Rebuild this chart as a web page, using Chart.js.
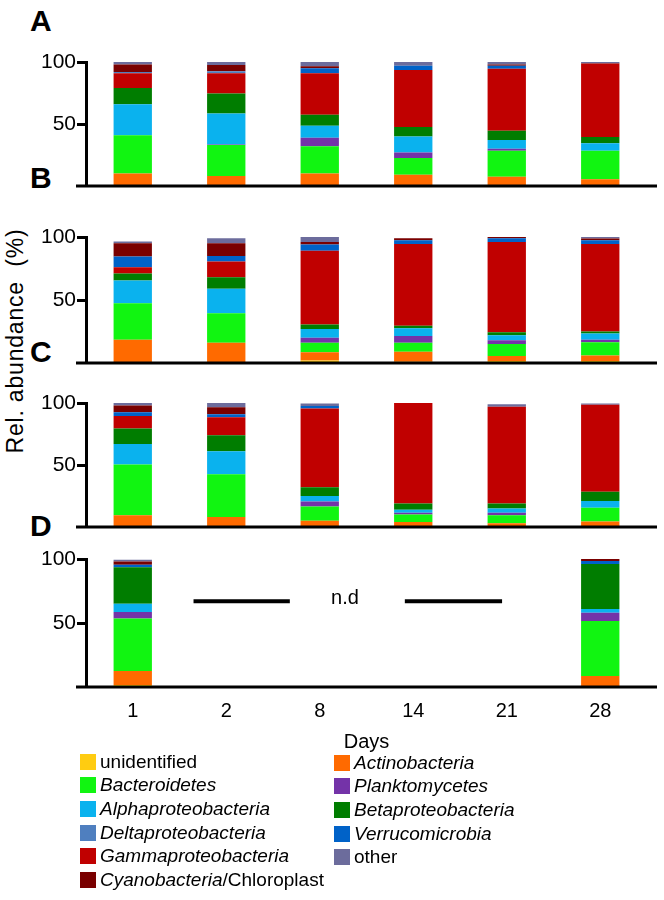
<!DOCTYPE html>
<html>
<head>
<meta charset="utf-8">
<script src="https://cdn.jsdelivr.net/npm/chart.js@4.4.1/dist/chart.umd.min.js"></script>
<style>
  body { margin: 0; background: #fff; }
  #wrap { position: relative; width: 664px; height: 900px; font-family: "Liberation Sans", Arial, sans-serif; color: #000; overflow: hidden; }
  canvas { position: absolute; left: 0; }
  .panel { position: absolute; left: 30px; font-weight: bold; font-size: 30px; line-height: 1; }
  #ytitle { position: absolute; left: -115px; top: 329px; width: 260px; height: 24px; line-height: 24px;
            text-align: center; font-size: 23px; letter-spacing: 0.8px; white-space: pre; transform: rotate(-90deg); }
  .leg { position: absolute; font-size: 19px; }
  .leg div { display: flex; align-items: center; height: 23.6px; white-space: nowrap; }
  .sw { width: 16px; height: 16px; margin-right: 4px; flex: none; }
</style>
</head>
<body>
<div id="wrap">
  <div class="panel" style="top:6px">A</div>
  <div class="panel" style="top:163px">B</div>
  <div class="panel" style="top:337px">C</div>
  <div class="panel" style="top:511px">D</div>
  <div id="ytitle">Rel. abundance  (%)</div>
  <canvas id="chartA" width="664" height="152" style="top:48px"></canvas>
  <canvas id="chartB" width="664" height="154" style="top:223px"></canvas>
  <canvas id="chartC" width="664" height="152" style="top:389px"></canvas>
  <canvas id="chartD" width="664" height="230" style="top:545px"></canvas>
  <div class="leg" id="legLeft" style="left:80px; top:750px"></div>
  <div class="leg" id="legRight" style="left:334px; top:751px"></div>
</div>
<script>
const days = ["1", "2", "8", "14", "21", "28"];
const panels = ["A", "B", "C", "D"];

// one row per panel (A, B, C, D), one value per day; null = not determined
const unidentified = [
    [0, 0, 0, 0, 0, 0],
    [0, 0, 2, 1, 1.5, 1.5],
    [0, 0, 0, 0.5, 0, 0],
    [1.5, null, null, null, null, 0]
];
const actinobacteria = [
    [10, 8, 10, 9, 7.5, 5.5],
    [18.5, 16, 6.5, 8, 4, 4.5],
    [9.5, 8, 5, 3.5, 3, 4.5],
    [11, null, null, null, null, 8.5]
];
const bacteroidetes = [
    [31, 25, 22, 13.5, 21, 23],
    [29, 23.5, 7.5, 7, 9.5, 10.5],
    [41, 34.5, 11.5, 6, 6.5, 11],
    [41, null, null, null, null, 43]
];
const planktomycetes = [
    [0, 0.5, 7, 4.5, 1.5, 0],
    [0, 0, 4, 5.5, 3, 2],
    [0, 0, 4, 1.5, 2, 0],
    [5, null, null, null, null, 6.5]
];
const alphaproteobacteria = [
    [25, 25, 9.5, 13, 7, 6],
    [18, 19.5, 7, 6, 4, 5],
    [16.5, 18.5, 4.5, 2.5, 3.5, 5.5],
    [6.5, null, null, null, null, 3]
];
const betaproteobacteria = [
    [13, 16, 9, 7.5, 7.5, 5],
    [5.5, 9, 3.5, 2, 2.5, 1.5],
    [12.5, 13, 7, 5, 4, 7.5],
    [28.5, null, null, null, null, 35]
];
const gammaproteobacteria = [
    [12, 16.5, 33.5, 46, 50, 59],
    [5, 12.5, 58.5, 65, 71.5, 69.5],
    [10, 14.5, 63.5, 81, 78, 70],
    [0, null, null, null, null, 0]
];
const deltaproteobacteria = [
    [1, 1.5, 0, 0, 0, 0],
    [0, 0, 0, 0, 0, 0],
    [0, 0, 0, 0, 0, 0],
    [0, null, null, null, null, 0]
];
const verrucomicrobia = [
    [0, 0, 4, 3.5, 2.5, 0],
    [8.5, 4.5, 5, 3, 3, 3],
    [3, 2.5, 2, 0, 0, 0],
    [2, null, null, null, null, 2.5]
];
const cyanobacteria = [
    [6, 5, 1.5, 0, 1, 0.5],
    [10.5, 10, 2, 1.5, 1, 1.3],
    [5.5, 5.5, 0, 0, 0, 0],
    [2.5, null, null, null, null, 1.5]
];
const other = [
    [2, 2.5, 3.5, 3, 2, 1],
    [1.5, 4, 4, 0, 0, 1.2],
    [2, 3.5, 2, 0.5, 2, 1],
    [1.5, null, null, null, null, 0]
];

// stacking order, bottom to top
const taxa = ["unidentified", "Actinobacteria", "Bacteroidetes", "Planktomycetes", "Alphaproteobacteria",
    "Betaproteobacteria", "Gammaproteobacteria", "Deltaproteobacteria", "Verrucomicrobia",
    "Cyanobacteria/Chloroplast", "other"];
const series = [unidentified, actinobacteria, bacteroidetes, planktomycetes, alphaproteobacteria,
    betaproteobacteria, gammaproteobacteria, deltaproteobacteria, verrucomicrobia, cyanobacteria, other];
const colors = ["#FFCC11", "#FF6A00", "#11F511", "#7433A8", "#0AB2EE",
    "#007D00", "#C00000", "#4F7FBF", "#0062C8", "#7A0000", "#6C6C9C"];

// legend columns (by taxon name)
const legendLeft = ["unidentified", "Bacteroidetes", "Alphaproteobacteria", "Deltaproteobacteria",
    "Gammaproteobacteria", "Cyanobacteria/Chloroplast"];
const legendRight = ["Actinobacteria", "Planktomycetes", "Betaproteobacteria", "Verrucomicrobia", "other"];

const yTicks = [50, 100];
const ndSpans = [[0.65, 1.68], [2.91, 3.95]];
const ndLabelAt = 2.27;
const ndLevel = 67;

Chart.defaults.font.family = "'Liberation Sans', Arial, sans-serif";
Chart.defaults.color = "#000";

const baseline = {
    id: "baseline",
    afterDraw(chart) {
        const { ctx, chartArea } = chart;
        const y0 = chart.scales.y.getPixelForValue(0);
        ctx.save();
        ctx.strokeStyle = "#000";
        ctx.lineWidth = 3;
        ctx.beginPath();
        ctx.moveTo(chartArea.left - 10, y0);
        ctx.lineTo(chartArea.right + 10, y0);
        ctx.stroke();
        ctx.restore();
    }
};

const notDetected = {
    id: "notDetected",
    afterDatasetsDraw(chart) {
        const { ctx } = chart;
        const x = chart.scales.x, y = chart.scales.y;
        const yy = y.getPixelForValue(ndLevel);
        ctx.save();
        ctx.strokeStyle = "#000";
        ctx.lineWidth = 4;
        ndSpans.forEach(s => {
            ctx.beginPath();
            ctx.moveTo(x.getPixelForValue(s[0]), yy);
            ctx.lineTo(x.getPixelForValue(s[1]), yy);
            ctx.stroke();
        });
        ctx.fillStyle = "#000";
        ctx.font = "20px 'Liberation Sans', Arial, sans-serif";
        ctx.textAlign = "center";
        ctx.textBaseline = "middle";
        ctx.fillText("n.d", x.getPixelForValue(ndLabelAt), yy - 3);
        ctx.restore();
    }
};

function makeChart(id, p) {
    const last = p === panels.length - 1;
    const datasets = taxa.map((t, k) => ({
        label: t,
        data: series[k][p],
        backgroundColor: colors[k],
        borderWidth: 0,
        barPercentage: 0.41,
        categoryPercentage: 1
    }));
    const plugins = [baseline];
    if (last) plugins.push(notDetected);

    return new Chart(document.getElementById(id), {
        type: "bar",
        data: { labels: days, datasets: datasets },
        options: {
            responsive: false,
            animation: false,
            layout: { padding: { top: 14, bottom: last ? 0 : 14, left: 0, right: 17 } },
            plugins: { legend: { display: false }, tooltip: { enabled: false } },
            scales: {
                x: {
                    stacked: true,
                    display: last,
                    grid: { display: false, drawTicks: false },
                    border: { display: false },
                    ticks: { font: { size: 20 }, padding: 12, maxRotation: 0 },
                    title: { display: true, text: "Days", font: { size: 20 }, padding: { top: 0, bottom: 21 } },
                    afterFit: s => { s.height = last ? 88 : 0; }
                },
                y: {
                    stacked: true,
                    min: 0,
                    max: 100,
                    afterBuildTicks: s => { s.ticks = yTicks.map(v => ({ value: v })); },
                    afterFit: s => { s.width = 86; },
                    grid: { drawOnChartArea: false, drawTicks: true, tickLength: 9, tickWidth: 3, tickColor: "#000", color: "#000" },
                    border: { display: true, width: 3, color: "#000" },
                    ticks: { font: { size: 21 }, padding: 1 }
                }
            }
        },
        plugins: plugins
    });
}

makeChart("chartA", 0);
makeChart("chartB", 1);
makeChart("chartC", 2);
makeChart("chartD", 3);

function legendColumn(el, names) {
    names.forEach(name => {
        const k = taxa.indexOf(name);
        const row = document.createElement("div");
        const sw = document.createElement("span");
        sw.className = "sw";
        sw.style.background = colors[k];
        row.appendChild(sw);
        const txt = document.createElement("span");
        if (name === "unidentified" || name === "other") {
            txt.textContent = name;
        } else {
            const parts = name.split("/");
            const i = document.createElement("i");
            i.textContent = parts[0];
            txt.appendChild(i);
            if (parts[1]) txt.appendChild(document.createTextNode("/" + parts[1]));
        }
        row.appendChild(txt);
        el.appendChild(row);
    });
}
legendColumn(document.getElementById("legLeft"), legendLeft);
legendColumn(document.getElementById("legRight"), legendRight);
</script>
</body>
</html>
